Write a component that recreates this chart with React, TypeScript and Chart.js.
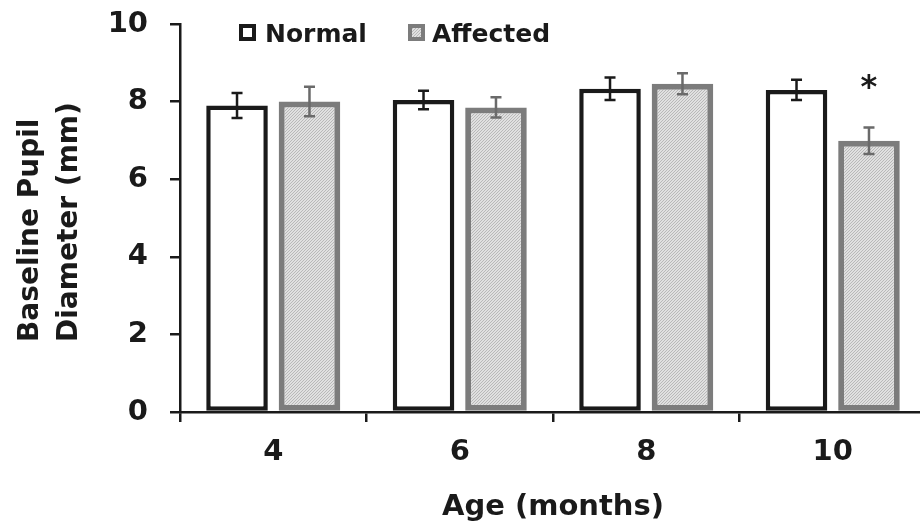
import React, { useEffect, useRef } from "react";
import { Chart, registerables } from "chart.js";

Chart.register(...registerables);

const categories = ["4", "6", "8", "10"];
const seriesNames = ["Normal", "Affected"];
const normalValues = [7.9, 8.04, 8.33, 8.3];
const normalErrors = [0.32, 0.24, 0.29, 0.26];
const affectedValues = [8.0, 7.85, 8.46, 6.99];
const affectedErrors = [0.38, 0.26, 0.27, 0.34];
const significance = ["", "", "", "*"];
const yTicks = [0, 2, 4, 6, 8, 10];
const xTitle = "Age (months)";
const yTitleLines = ["Baseline Pupil", "Diameter (mm)"];

const FONT = "'DejaVu Sans', sans-serif";
const INK = "#1a1a1a";
const NORMAL_BORDER = "#1a1a1a";
const AFFECTED_BORDER = "#7c7c7c";
const AFFECTED_ERR = "#6a6a6a";

function makeHatch(): CanvasPattern | string {
  const c = document.createElement("canvas");
  c.width = 3;
  c.height = 3;
  const g = c.getContext("2d");
  if (!g) return "#d0d0d0";
  g.fillStyle = "#e0e0e0";
  g.fillRect(0, 0, 3, 3);
  g.fillStyle = "#b8b8b8";
  g.fillRect(0, 2, 1, 1);
  g.fillRect(1, 1, 1, 1);
  g.fillRect(2, 0, 1, 1);
  const p = g.createPattern(c, "repeat");
  return p || "#d0d0d0";
}

export default function App() {
  const ref = useRef<HTMLCanvasElement | null>(null);

  useEffect(() => {
    const canvas = ref.current;
    if (!canvas) return;
    const hatch = makeHatch();
    const errs = [normalErrors, affectedErrors];
    const errColors = [NORMAL_BORDER, AFFECTED_ERR];

    const errorBars = {
      id: "errorBars",
      afterDatasetsDraw(chart: any) {
        const ctx = chart.ctx;
        const y = chart.scales.y;
        chart.data.datasets.forEach((ds: any, di: number) => {
          const meta = chart.getDatasetMeta(di);
          meta.data.forEach((el: any, i: number) => {
            const v = ds.data[i];
            const e = errs[di][i];
            const top = y.getPixelForValue(v + e);
            const bot = y.getPixelForValue(v - e);
            ctx.save();
            ctx.strokeStyle = errColors[di];
            ctx.lineWidth = 2.5;
            ctx.beginPath();
            ctx.moveTo(el.x, top);
            ctx.lineTo(el.x, bot);
            ctx.moveTo(el.x - 5.5, top);
            ctx.lineTo(el.x + 5.5, top);
            ctx.moveTo(el.x - 5.5, bot);
            ctx.lineTo(el.x + 5.5, bot);
            ctx.stroke();
            ctx.restore();
            if (di === 1 && significance[i]) {
              ctx.save();
              ctx.fillStyle = INK;
              ctx.font = `bold 32px ${FONT}`;
              ctx.textAlign = "center";
              ctx.textBaseline = "alphabetic";
              ctx.fillText(significance[i], el.x, top - 31);
              ctx.restore();
            }
          });
        });
      },
    };

    const customLegend = {
      id: "customLegend",
      afterDraw(chart: any) {
        const ctx = chart.ctx;
        const boxX = [239, 408];
        const textX = [265, 432];
        chart.data.datasets.forEach((ds: any, di: number) => {
          ctx.save();
          ctx.fillStyle = ds.backgroundColor;
          ctx.fillRect(boxX[di], 24, 17, 17);
          ctx.strokeStyle = ds.borderColor;
          ctx.lineWidth = 4;
          ctx.strokeRect(boxX[di] + 2, 26, 13, 13);
          ctx.fillStyle = INK;
          ctx.font = `bold 25px ${FONT}`;
          ctx.textAlign = "left";
          ctx.textBaseline = "alphabetic";
          ctx.fillText(ds.label, textX[di], 42);
          ctx.restore();
        });
      },
    };

    const yTitle = {
      id: "yTitle",
      afterDraw(chart: any) {
        const ctx = chart.ctx;
        ctx.save();
        ctx.fillStyle = INK;
        ctx.font = `bold 28px ${FONT}`;
        ctx.textAlign = "left";
        ctx.textBaseline = "alphabetic";
        ctx.translate(38, 342);
        ctx.rotate(-Math.PI / 2);
        yTitleLines.forEach((line, i) => {
          ctx.fillText(line, 0, i * 39);
        });
        ctx.restore();
      },
    };

    const chart = new Chart(canvas, {
      type: "bar",
      data: {
        labels: categories,
        datasets: [
          {
            label: seriesNames[0],
            data: normalValues,
            backgroundColor: "#ffffff",
            borderColor: NORMAL_BORDER,
            borderWidth: 4.5,
            borderSkipped: false,
            categoryPercentage: 0.777,
            barPercentage: 0.85,
          },
          {
            label: seriesNames[1],
            data: affectedValues,
            backgroundColor: hatch as any,
            borderColor: AFFECTED_BORDER,
            borderWidth: 6,
            borderSkipped: false,
            categoryPercentage: 0.777,
            barPercentage: 0.85,
          },
        ],
      },
      options: {
        responsive: false,
        animation: false,
        layout: { padding: { top: 24, left: 0, right: 0, bottom: 0 } },
        plugins: {
          legend: { display: false },
          tooltip: { enabled: false },
          title: { display: false },
        },
        scales: {
          x: {
            offset: true,
            grid: {
              offset: true,
              drawOnChartArea: false,
              drawTicks: true,
              tickLength: 10,
              color: INK,
              lineWidth: 2.5,
            },
            border: { display: true, color: INK, width: 2.5 },
            ticks: {
              color: INK,
              font: { family: FONT, size: 29, weight: "bold" },
              padding: 13,
            },
            title: {
              display: true,
              text: xTitle,
              color: INK,
              font: { family: FONT, size: 29, weight: "bold" },
              padding: { top: 0, bottom: 4 },
            },
            afterFit(scale: any) {
              scale.height = 117;
            },
          },
          y: {
            min: 0,
            max: 10,
            afterBuildTicks(scale: any) {
              scale.ticks = yTicks.map((v) => ({ value: v }));
            },
            grid: {
              drawOnChartArea: false,
              drawTicks: true,
              tickLength: 10,
              color: INK,
              lineWidth: 2.5,
            },
            border: { display: true, color: INK, width: 2.5 },
            ticks: {
              color: INK,
              font: { family: FONT, size: 29, weight: "bold" },
              padding: 22,
            },
            afterFit(scale: any) {
              scale.width = 180;
              scale.paddingTop = 0;
              scale.paddingBottom = 0;
            },
          },
        },
      },
      plugins: [errorBars, customLegend, yTitle],
    });
    return () => chart.destroy();
  }, []);

  return (
    <div
      style={{
        position: "absolute",
        left: 0,
        top: 0,
        width: 920,
        height: 529,
        overflow: "hidden",
        background: "#ffffff",
      }}
    >
      <canvas ref={ref} width={926} height={529} />
    </div>
  );
}
